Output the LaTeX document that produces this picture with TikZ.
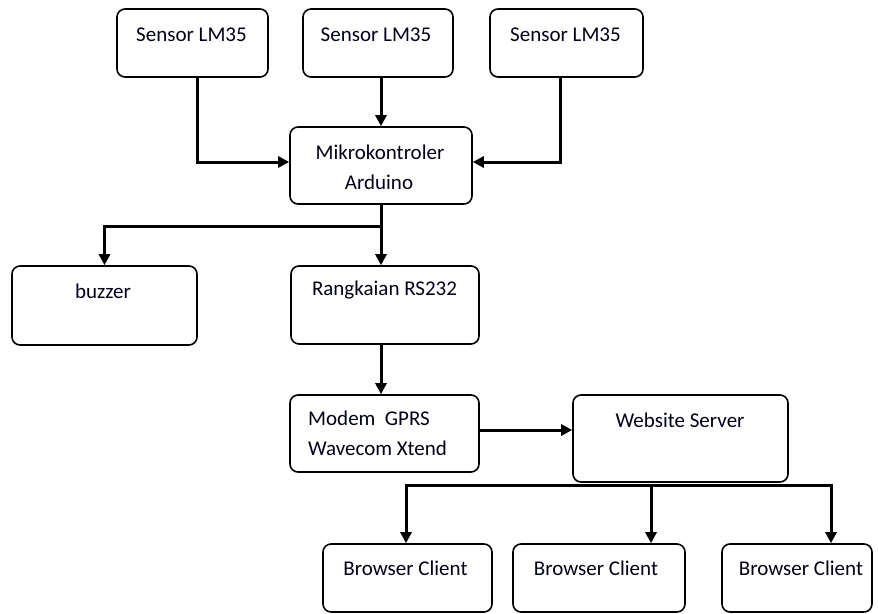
\documentclass[tikz,border=0pt]{standalone}
\usepackage{fontspec}
\setmainfont{Carlito}
\usetikzlibrary{arrows.meta}
\begin{document}
\begin{tikzpicture}[x=1pt,y=-1pt,
  box/.style={draw=black, line width=1.6pt, rounded corners=8pt, inner sep=0pt, fill=white},
  txt/.style={inner sep=0pt, font=\fontsize{21}{25}\selectfont, text=black!90!blue},
  arr/.style={line width=3pt, -{Triangle[length=11pt,width=11pt]}}]
\useasboundingbox[fill=white] (0,0) rectangle (878,613);
% boxes
\node[box, minimum width=151pt, minimum height=68pt] (s1) at (192.5,43) {};
\node[box, minimum width=150pt, minimum height=68pt] (s2) at (378,43) {};
\node[box, minimum width=153pt, minimum height=68pt] (s3) at (566.5,43) {};
\node[box, minimum width=182pt, minimum height=77pt] (mk) at (381,165.5) {};
\node[box, minimum width=185pt, minimum height=79pt] (bz) at (104.5,305.5) {};
\node[box, minimum width=188pt, minimum height=78pt] (rs) at (385,305) {};
\node[box, minimum width=189pt, minimum height=77pt] (md) at (384.5,433.5) {};
\node[box, minimum width=215pt, minimum height=87pt] (ws) at (680.5,438.5) {};
\node[box, minimum width=169pt, minimum height=68pt] (b1) at (407.5,578) {};
\node[box, minimum width=172pt, minimum height=68pt] (b2) at (599,578) {};
\node[box, minimum width=150pt, minimum height=68pt] (b3) at (797,578) {};
% texts
\node[txt] (s1t) at (191.5,35) {Sensor LM35};
\node[txt] (s2t) at (376,35) {Sensor LM35};
\node[txt] (s3t) at (565.5,35) {Sensor LM35};
\node[txt] (mkt1) at (380,152) {Mikrokontroler};
\node[txt] (mkt2) at (379,182) {Arduino};
\node[txt] (bzt) at (103,291) {buzzer};
\node[txt] (rst) at (384.5,290) {Rangkaian RS232};
\node[txt, anchor=west] (mdt1) at (308,418) {Modem\ \ GPRS};
\node[txt, anchor=west] (mdt2) at (308,448) {Wavecom Xtend};
\node[txt] (wst) at (680,420) {Website Server};
\node[txt] (b1t) at (405.5,568) {Browser Client};
\node[txt] (b2t) at (596,568) {Browser Client};
\node[txt] (b3t) at (801,568) {Browser Client};
% junctions
\coordinate (j1) at (381,226);
\coordinate (bar) at (651,485);
\coordinate (barL) at (406,485);
\coordinate (barR) at (831,485);
% connectors
\draw[arr] ([xshift=4.5pt]s1.south) |- ([yshift=3.5pt]mk.west);
\draw[arr] (mk.north |- s2.south) -- (mk.north);
\draw[arr] ([xshift=-6.5pt]s3.south) |- ([yshift=3.5pt]mk.east);
\draw[arr] (mk.south) -- (mk.south |- rs.north);
\draw[arr] (mk.south) -- (j1) -| (bz.north);
\draw[arr] (rs.south -| mk.south) -- (md.north -| mk.south);
\draw[arr] ([yshift=3.5pt]md.east) -- ([yshift=3.5pt]md.east -| ws.west);
\draw[arr] (bar) -- (barL) -- (barL |- b1.north);
\draw[arr] (bar) -- (bar |- b2.north);
\draw[arr] (bar) -- (barR) -- (barR |- b3.north);
\end{tikzpicture}
\end{document}
